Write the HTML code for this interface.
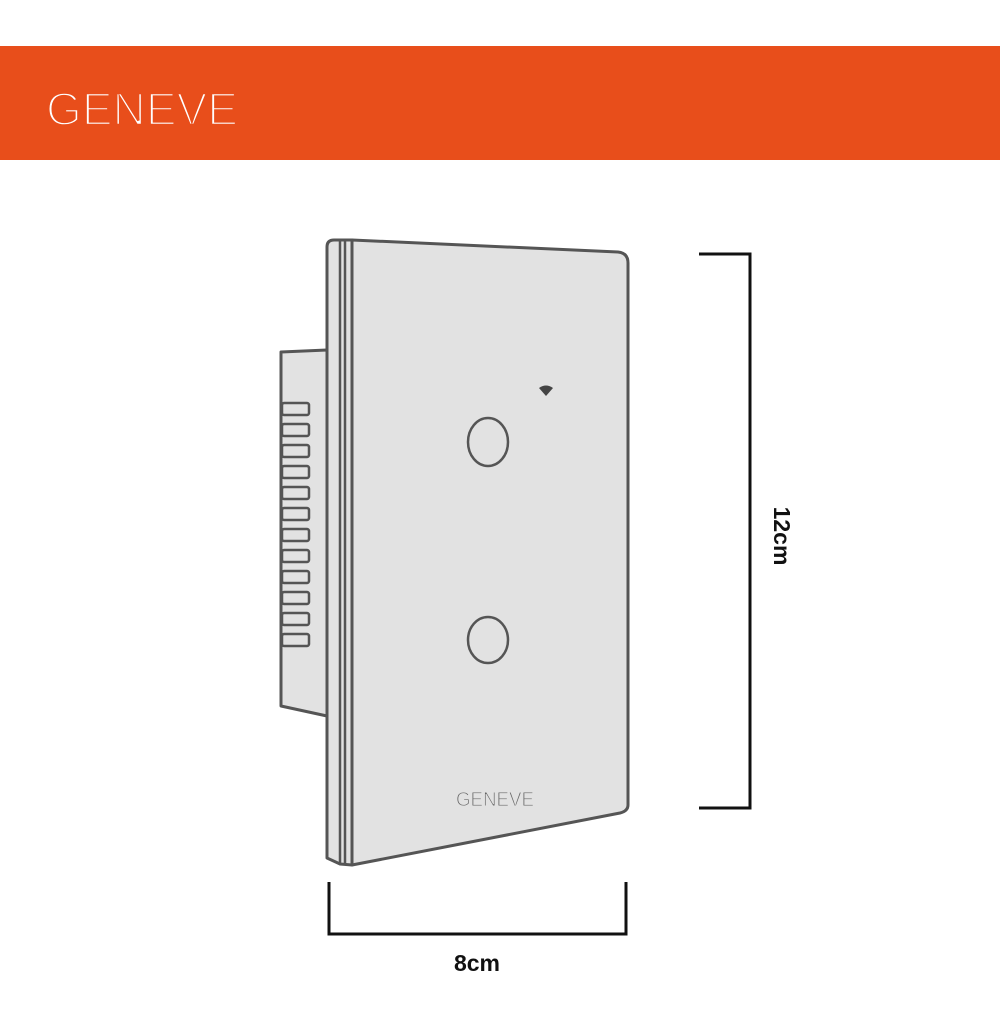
<!DOCTYPE html>
<html><head><meta charset="utf-8"><style>
html,body{margin:0;padding:0;background:#fff;}
body{width:1000px;height:1018px;overflow:hidden;position:relative;font-family:"Liberation Sans",sans-serif;}
</style></head><body>
<svg width="1000" height="1018" viewBox="0 0 1000 1018" xmlns="http://www.w3.org/2000/svg">
<rect x="0" y="46" width="1000" height="114" fill="#e84e1b"/>
<text x="46" y="125" font-family="Liberation Sans, sans-serif" font-size="46" fill="#fff" stroke="#e84e1b" stroke-width="2.4" textLength="192" lengthAdjust="spacingAndGlyphs">GENEVE</text>

<g stroke="#555" stroke-width="3" fill="#e2e2e2" stroke-linejoin="round">
  <path d="M327 350 L281 352 L281 706 L327 716 Z"/>
  <path d="M334 240 L352 240 L352 865 L340 864 L327 858 L327 247 Q327 240 334 240 Z"/>
  <path d="M352 240 L618 252 Q628 253 628 263 L628 805 Q628 811 620 813 L352 865 Z"/>
</g>
<g stroke="#555" stroke-width="2.5" fill="none">
  <line x1="340" y1="241" x2="340" y2="864"/>
  <line x1="345" y1="241" x2="345" y2="864"/>
</g>
<g stroke="#555" stroke-width="2.5" fill="#e2e2e2">
  <rect x="282" y="403" width="27" height="12" rx="2"/>
  <rect x="282" y="424" width="27" height="12" rx="2"/>
  <rect x="282" y="445" width="27" height="12" rx="2"/>
  <rect x="282" y="466" width="27" height="12" rx="2"/>
  <rect x="282" y="487" width="27" height="12" rx="2"/>
  <rect x="282" y="508" width="27" height="12" rx="2"/>
  <rect x="282" y="529" width="27" height="12" rx="2"/>
  <rect x="282" y="550" width="27" height="12" rx="2"/>
  <rect x="282" y="571" width="27" height="12" rx="2"/>
  <rect x="282" y="592" width="27" height="12" rx="2"/>
  <rect x="282" y="613" width="27" height="12" rx="2"/>
  <rect x="282" y="634" width="27" height="12" rx="2"/>
</g>
<ellipse cx="488" cy="442" rx="20" ry="24" fill="none" stroke="#555" stroke-width="2.5"/>
<ellipse cx="488" cy="640" rx="20" ry="23" fill="none" stroke="#555" stroke-width="2.5"/>
<path d="M539 388 Q546 383 553 388 L546 396 Z" fill="#444"/>
<text x="495" y="806" text-anchor="middle" font-family="Liberation Sans, sans-serif" font-size="20" fill="#666" stroke="#e2e2e2" stroke-width="0.9" textLength="78" lengthAdjust="spacingAndGlyphs">GENEVE</text>

<g stroke="#111" stroke-width="3" fill="none">
  <path d="M699 254 L750 254 L750 808 L699 808"/>
  <path d="M329 882 L329 934 L626 934 L626 882"/>
</g>
<text transform="translate(774 536) rotate(90)" text-anchor="middle" font-family="Liberation Sans, sans-serif" font-weight="bold" font-size="23" fill="#111">12cm</text>
<text x="477" y="971" text-anchor="middle" font-family="Liberation Sans, sans-serif" font-weight="bold" font-size="23" fill="#111">8cm</text>
</svg>
</body></html>
